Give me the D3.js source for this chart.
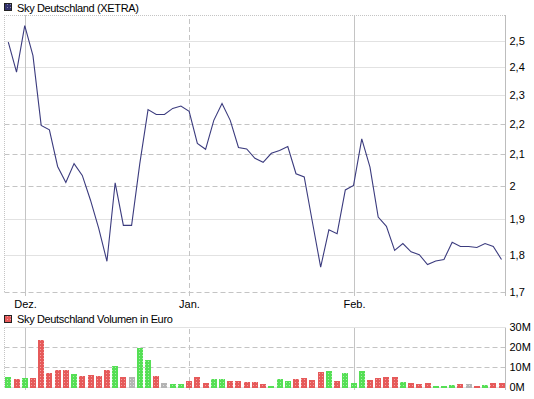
<!DOCTYPE html>
<html>
<head>
<meta charset="utf-8">
<script src="https://cdn.jsdelivr.net/npm/d3@7"></script>
<style>
  body { margin: 0; background: #fff; }
  svg { display: block; font-family: "Liberation Sans", Arial, sans-serif; }
</style>
</head>
<body>
<div id="chart"></div>
<script>
// closing prices, one per trading day (late Nov .. late Feb)
const prices = [2.494, 2.382, 2.558, 2.443, 2.195, 2.180, 2.061, 2.011, 2.070, 2.033,
  1.957, 1.874, 1.782, 2.010, 1.883, 1.883, 2.071, 2.249, 2.232, 2.232,
  2.253, 2.261, 2.243, 2.135, 2.116, 2.212, 2.270, 2.212, 2.122, 2.117,
  2.087, 2.074, 2.103, 2.112, 2.125, 2.038, 2.028, 1.892, 1.766, 1.870,
  1.859, 1.988, 2.002, 2.150, 2.059, 1.907, 1.880, 1.812, 1.831, 1.808,
  1.800, 1.773, 1.783, 1.787, 1.835, 1.823, 1.823, 1.820, 1.831, 1.823, 1.787];
const prevClose = 2.45;

// traded volume in million euro
const volumes = [5.7, 4.7, 5.2, 5.2, 24.2, 7.7, 9.2, 9.2, 7.2, 6.2,
  6.7, 6.2, 9.2, 11.2, 5.7, 5.7, 19.9, 14.2, 6.2, 2.7,
  2.2, 2.2, 3.7, 5.7, 2.7, 4.7, 4.7, 3.7, 3.7, 3.2,
  3.2, 2.2, 1.2, 4.6, 3.7, 4.6, 5.1, 4.2, 8.2, 8.7,
  3.7, 7.7, 2.7, 8.7, 4.2, 5.2, 5.7, 5.7, 3.2, 2.7,
  2.2, 2.7, 1.2, 1.2, 1.7, 2.2, 2.2, 1.2, 1.7, 2.7, 2.7];

const monthLabels = ['Dez.', 'Jan.', 'Feb.'];
const monthStart = [2, 22, 42]; // index of first trading day in month

const priceTicks = [1.7, 1.8, 1.9, 2, 2.1, 2.2, 2.3, 2.4, 2.5];
const dashedPriceTicks = [1.7, 2, 2.1, 2.2];
const volumeTicks = [0, 10, 20, 30];

const width = 534, height = 399;
const left = 4, right = 505;
const grid = '#c4c4c4';

const svg = d3.select('#chart').append('svg')
  .attr('width', width)
  .attr('height', height);

// fill patterns (dotted look of the bars)
const defs = svg.append('defs');
function dotPattern(id, base, dot) {
  const p = defs.append('pattern')
    .attr('id', id)
    .attr('patternUnits', 'userSpaceOnUse')
    .attr('width', 3).attr('height', 3);
  p.append('rect').attr('width', 3).attr('height', 3).attr('fill', base);
  p.append('rect').attr('x', 1).attr('y', 1).attr('width', 1).attr('height', 1).attr('fill', dot);
}
dotPattern('p-red', '#e65a5a', '#f3a3a3');
dotPattern('p-green', '#55df55', '#aaf0aa');
dotPattern('p-gray', '#b4b4b4', '#dedede');
dotPattern('p-navy', '#33336e', '#8a8ab0');

const x = d3.scaleLinear().domain([0, prices.length - 1]).range([8.3, 501.5]);

// ---------- price chart ----------
const top1 = 15, bottom1 = 292;
const y = d3.scaleLog().domain([1.7, 2.6]).range([bottom1, top1]);

const g1 = svg.append('g');

// frame (left + top dotted)
g1.append('line').attr('x1', left + 0.5).attr('x2', left + 0.5)
  .attr('y1', top1).attr('y2', bottom1)
  .attr('stroke', grid).attr('stroke-dasharray', '1,1');
g1.append('line').attr('x1', left).attr('x2', right)
  .attr('y1', top1 + 0.5).attr('y2', top1 + 0.5)
  .attr('stroke', grid).attr('stroke-dasharray', '1,1');

const yAxis = g1.append('g')
  .attr('transform', `translate(${right + 0.5},0)`)
  .call(d3.axisRight(y)
    .tickValues(priceTicks)
    .tickSize(-(right - left))
    .tickPadding(4)
    .tickFormat(d => String(d).replace('.', ',')));
yAxis.select('.domain').remove();
yAxis.selectAll('.tick line')
  .attr('stroke', grid)
  .attr('stroke-dasharray', d => dashedPriceTicks.includes(d) ? '5,3' : '1,1');
yAxis.selectAll('.tick')
  .attr('transform', d => `translate(0,${Math.round(y(d)) + 0.5})`);
yAxis.selectAll('text')
  .attr('fill', '#000')
  .style('font-size', '11px')
  .style('font-family', '"Liberation Sans", Arial, sans-serif');

const xAxis = g1.append('g')
  .attr('transform', `translate(0,${bottom1})`)
  .call(d3.axisBottom(x)
    .tickValues(monthStart)
    .tickSize(-(bottom1 - top1))
    .tickSizeOuter(0)
    .tickPadding(8)
    .tickFormat((d, i) => monthLabels[i]));
xAxis.select('.domain').remove();
xAxis.selectAll('.tick')
  .attr('transform', d => `translate(${Math.round(x(d)) + 0.5},0)`);
xAxis.selectAll('.tick line')
  .attr('y1', 4)
  .attr('stroke', grid)
  .attr('stroke-dasharray', (d, i) => i % 2 ? '5,3' : null);
xAxis.selectAll('text')
  .attr('fill', '#000')
  .style('font-size', '11px')
  .style('font-family', '"Liberation Sans", Arial, sans-serif');

// right axis line
g1.append('line').attr('x1', right + 0.5).attr('x2', right + 0.5)
  .attr('y1', top1).attr('y2', bottom1 + 4)
  .attr('stroke', '#bdbdbd');

const line = d3.line()
  .x((d, i) => x(i))
  .y(d => y(d));

g1.append('path')
  .datum(prices)
  .attr('d', line)
  .attr('fill', 'none')
  .attr('stroke', '#3b3b7e')
  .attr('stroke-width', 1.1);

// legend
g1.append('rect').attr('x', 4.5).attr('y', 3.5).attr('width', 7).attr('height', 7)
  .attr('fill', 'url(#p-navy)').attr('stroke', '#222');
g1.append('text').attr('x', 17).attr('y', 12)
  .style('font-size', '11px').style('letter-spacing', '-0.35px')
  .text('Sky Deutschland (XETRA)');

// ---------- volume chart ----------
const top2 = 328, bottom2 = 388;
const yv = d3.scaleLinear().domain([0, 30]).range([bottom2, top2]);
const g2 = svg.append('g');

g2.append('line').attr('x1', left + 0.5).attr('x2', left + 0.5)
  .attr('y1', top2).attr('y2', bottom2)
  .attr('stroke', grid).attr('stroke-dasharray', '1,1');

const vAxis = g2.append('g')
  .attr('transform', `translate(${right + 0.5},0)`)
  .call(d3.axisRight(yv)
    .tickValues(volumeTicks)
    .tickSize(-(right - left))
    .tickPadding(4)
    .tickFormat(d => d + 'M'));
vAxis.select('.domain').remove();
vAxis.selectAll('.tick')
  .attr('transform', d => `translate(0,${Math.round(yv(d)) - 0.5})`);
vAxis.selectAll('.tick line')
  .attr('stroke', grid)
  .attr('stroke-dasharray', d => (d === 0 || d === 30) ? '1,1' : '5,3');
vAxis.selectAll('text')
  .attr('fill', '#000')
  .style('font-size', '11px')
  .style('font-family', '"Liberation Sans", Arial, sans-serif');

const vxAxis = g2.append('g')
  .attr('transform', `translate(0,${bottom2})`)
  .call(d3.axisBottom(x)
    .tickValues(monthStart)
    .tickSize(-(bottom2 - top2))
    .tickSizeOuter(0)
    .tickFormat(''));
vxAxis.select('.domain').remove();
vxAxis.selectAll('.tick')
  .attr('transform', d => `translate(${Math.round(x(d)) + 0.5},0)`);
vxAxis.selectAll('.tick line')
  .attr('y1', 2)
  .attr('stroke', grid)
  .attr('stroke-dasharray', (d, i) => i % 2 ? '5,3' : null);

g2.append('line').attr('x1', right + 0.5).attr('x2', right + 0.5)
  .attr('y1', top2).attr('y2', bottom2 + 2)
  .attr('stroke', '#bdbdbd');

function barFill(i) {
  const prev = i === 0 ? prevClose : prices[i - 1];
  if (prices[i] > prev) return 'url(#p-green)';
  if (prices[i] < prev) return 'url(#p-red)';
  return 'url(#p-gray)';
}

g2.selectAll('rect.bar')
  .data(volumes)
  .enter()
  .append('rect')
  .attr('class', 'bar')
  .attr('x', (d, i) => Math.round(x(i) - 3))
  .attr('y', d => Math.round(yv(d)))
  .attr('width', 6)
  .attr('height', d => bottom2 - Math.round(yv(d)))
  .attr('fill', (d, i) => barFill(i));

g2.append('rect').attr('x', 4.5).attr('y', 315.5).attr('width', 7).attr('height', 7)
  .attr('fill', 'url(#p-red)').attr('stroke', '#222');
g2.append('text').attr('x', 17).attr('y', 323)
  .style('font-size', '11px').style('letter-spacing', '-0.35px')
  .text('Sky Deutschland Volumen in Euro');
</script>
</body>
</html>
